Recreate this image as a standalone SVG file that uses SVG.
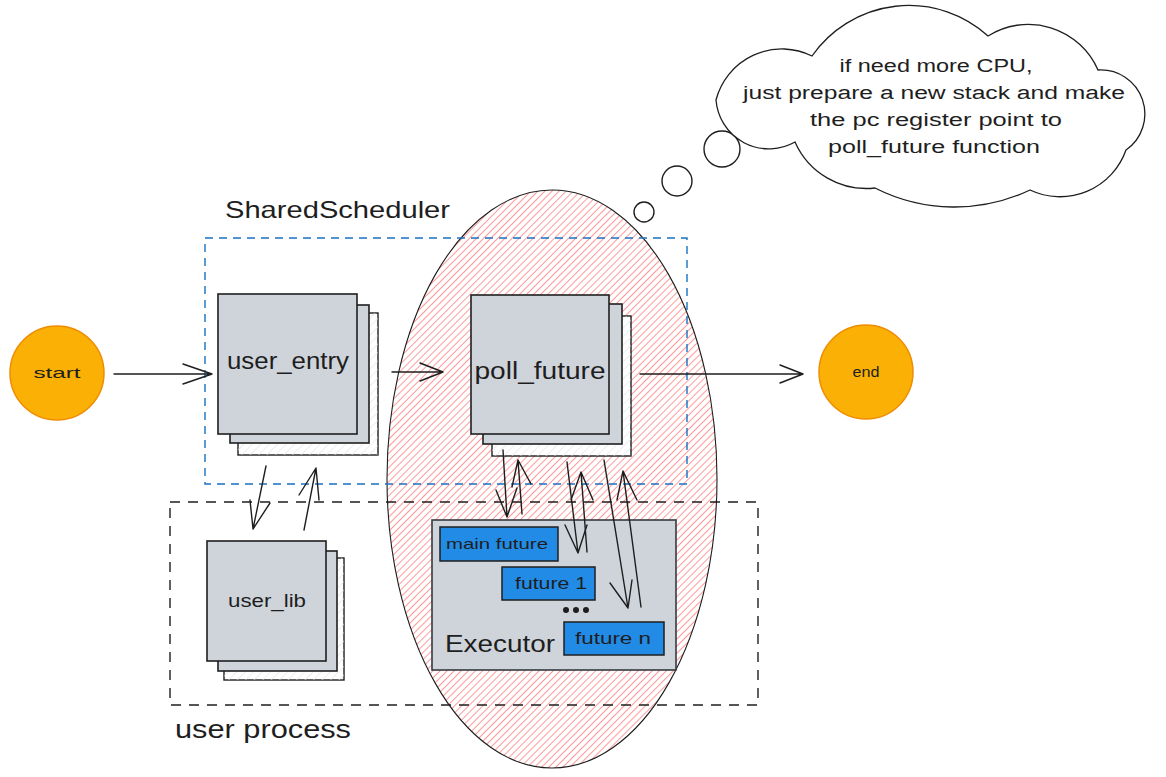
<svg xmlns="http://www.w3.org/2000/svg" width="1166" height="777" viewBox="0 0 1166 777">
  <defs>
    <pattern id="hatchRed" width="5" height="5" patternUnits="userSpaceOnUse" patternTransform="rotate(45)">
      <line x1="0" y1="0" x2="0" y2="5" stroke="#ff8787" stroke-width="1.7"/>
    </pattern>
    <pattern id="hatchGrey" width="6" height="6" patternUnits="userSpaceOnUse" patternTransform="rotate(45)">
      <line x1="0" y1="0" x2="0" y2="6" stroke="#dee2e6" stroke-width="1.2"/>
    </pattern>
    <style>
      .hand { font-family: "Liberation Sans", "DejaVu Sans", sans-serif; fill: #1e1e1e; }
      .ink { fill: none; stroke: #1e1e1e; stroke-width: 1.4; stroke-linecap: round; stroke-linejoin: round; }
      .card { fill: #ced4da; stroke: #1e1e1e; stroke-width: 1.6; }
      .cardBack { fill: #ffffff; stroke: #1e1e1e; stroke-width: 1.4; }
      .cardHatch { fill: url(#hatchGrey); stroke: none; }
      .task { fill: #228be6; stroke: #1e1e1e; stroke-width: 1.5; }
      .term { fill: #fab005; stroke: #f08c00; stroke-width: 1.5; }
    </style>
  </defs>

  <rect width="1166" height="777" fill="#ffffff"/>

  <!-- executor domain: hatched red ellipse -->
  <g id="executor-domain">
    <ellipse cx="552" cy="479" rx="165" ry="289" fill="url(#hatchRed)" stroke="#1e1e1e" stroke-width="1.1"/>
  </g>

  <!-- shared scheduler frame -->
  <g id="shared-scheduler">
    <rect x="205" y="238" width="482" height="246" fill="none" stroke="#1971c2" stroke-width="1.4" stroke-dasharray="8 6"/>
    <text class="hand" x="225" y="218" font-size="24" textLength="225" lengthAdjust="spacingAndGlyphs">SharedScheduler</text>
  </g>

  <!-- user process frame -->
  <g id="user-process">
    <rect x="170" y="502" width="588" height="203" fill="none" stroke="#1e1e1e" stroke-width="1.4" stroke-dasharray="10 8"/>
    <text class="hand" x="175" y="738" font-size="26" textLength="176" lengthAdjust="spacingAndGlyphs">user process</text>
  </g>

  <!-- start -->
  <g id="start">
    <circle class="term" cx="57" cy="373" r="47"/>
    <text class="hand" x="57" y="378" font-size="15" text-anchor="middle" textLength="47" lengthAdjust="spacingAndGlyphs">start</text>
  </g>

  <!-- end -->
  <g id="end">
    <circle class="term" cx="866" cy="372" r="47"/>
    <text class="hand" x="866" y="377" font-size="15" text-anchor="middle" textLength="27" lengthAdjust="spacingAndGlyphs">end</text>
  </g>

  <!-- user_entry stack -->
  <g id="user-entry">
    <rect class="cardBack" x="238" y="313" width="140" height="142"/>
    <rect class="cardHatch" x="238" y="313" width="140" height="142"/>
    <rect class="card" x="230" y="305" width="139" height="138"/>
    <rect class="card" x="218" y="294" width="139" height="140"/>
    <text class="hand" x="288" y="369" font-size="23" text-anchor="middle" textLength="122" lengthAdjust="spacingAndGlyphs">user_entry</text>
  </g>

  <!-- poll_future stack -->
  <g id="poll-future">
    <rect class="cardBack" x="492" y="316" width="139" height="140"/>
    <rect class="cardHatch" x="492" y="316" width="139" height="140"/>
    <rect class="card" x="483" y="304" width="139" height="140"/>
    <rect class="card" x="471" y="295" width="138" height="139"/>
    <text class="hand" x="540" y="379" font-size="23" text-anchor="middle" textLength="131" lengthAdjust="spacingAndGlyphs">poll_future</text>
  </g>

  <!-- user_lib stack -->
  <g id="user-lib">
    <rect class="cardBack" x="224" y="558" width="120" height="122"/>
    <rect class="cardHatch" x="224" y="558" width="120" height="122"/>
    <rect class="card" x="218" y="551" width="119" height="120"/>
    <rect class="card" x="207" y="541" width="119" height="120"/>
    <text class="hand" x="267" y="607" font-size="18" text-anchor="middle" textLength="78" lengthAdjust="spacingAndGlyphs">user_lib</text>
  </g>

  <!-- executor with its futures -->
  <g id="executor">
    <rect x="432" y="520" width="244" height="150" fill="#ced4da" stroke="#343a40" stroke-width="1.6"/>
    <text class="hand" x="445" y="652" font-size="24" textLength="110" lengthAdjust="spacingAndGlyphs">Executor</text>
  </g>
  <g id="main-future">
    <rect class="task" x="440" y="527" width="118" height="34"/>
    <text class="hand" x="497" y="549" font-size="15" text-anchor="middle" textLength="102" lengthAdjust="spacingAndGlyphs">main future</text>
  </g>
  <g id="future-1">
    <rect class="task" x="502" y="567" width="93" height="33"/>
    <text class="hand" x="551" y="589" font-size="17" text-anchor="middle" textLength="72" lengthAdjust="spacingAndGlyphs">future 1</text>
  </g>
  <g id="ellipsis">
    <circle cx="566" cy="610" r="3" fill="#1e1e1e"/>
    <circle cx="576" cy="610" r="3" fill="#1e1e1e"/>
    <circle cx="586" cy="610" r="3" fill="#1e1e1e"/>
  </g>
  <g id="future-n">
    <rect class="task" x="564" y="622" width="100" height="33"/>
    <text class="hand" x="613" y="644" font-size="17" text-anchor="middle" textLength="76" lengthAdjust="spacingAndGlyphs">future n</text>
  </g>

  <!-- thought cloud -->
  <g id="thought">
    <circle cx="644" cy="212" r="10" fill="#ffffff" stroke="#1e1e1e" stroke-width="1.4"/>
    <circle cx="677" cy="181" r="15" fill="#ffffff" stroke="#1e1e1e" stroke-width="1.4"/>
    <circle cx="722" cy="149" r="18" fill="#ffffff" stroke="#1e1e1e" stroke-width="1.4"/>
    <path d="M716,100 A68,68 0 0 1 812,56 A118,118 0 0 1 988,36 A76,76 0 0 1 1098,70 A44,44 0 0 1 1126,150 A70,70 0 0 1 1030,190 A176,176 0 0 1 875,188 A78,78 0 0 1 795,142 A53,53 0 0 1 716,100 Z" fill="#ffffff" stroke="#1e1e1e" stroke-width="1.3"/>
    <text class="hand" x="936" y="72" font-size="18" text-anchor="middle" textLength="193" lengthAdjust="spacingAndGlyphs">if need more CPU,</text>
    <text class="hand" x="934" y="99" font-size="18" text-anchor="middle" textLength="382" lengthAdjust="spacingAndGlyphs">just prepare a new stack and make</text>
    <text class="hand" x="936" y="126" font-size="18" text-anchor="middle" textLength="252" lengthAdjust="spacingAndGlyphs">the pc register point to</text>
    <text class="hand" x="934" y="153" font-size="18" text-anchor="middle" textLength="212" lengthAdjust="spacingAndGlyphs">poll_future function</text>
  </g>

  <!-- connectors -->
  <g id="connectors" class="ink">
    <!-- start to user_entry -->
    <path d="M114,374 L212,374 M183,364 L212,374 L183,384"/>
    <!-- user_entry to poll_future -->
    <path d="M392,372 L443,372 M420,363 L443,372 L420,381"/>
    <!-- poll_future to end -->
    <path d="M640,374 L803,374 M780,365 L803,374 L780,383"/>
    <!-- user_entry down to user_lib -->
    <path d="M266,466 L253,529 M250,500 L253,529 L270,503"/>
    <!-- user_lib up to user_entry -->
    <path d="M304,530 L316,468 M299,495 L316,468 L319,500"/>
    <!-- poll_future to main future and back -->
    <path d="M503,450 L507,517 M496,490 L507,517 L517,488"/>
    <path d="M522,514 L518,460 M512,487 L518,460 L531,484"/>
    <!-- poll_future to future 1 and back -->
    <path d="M567,462 L578,553 M565,525 L578,553 L587,525"/>
    <path d="M587,552 L581,472 M571,500 L581,472 L593,500"/>
    <!-- poll_future to future n and back -->
    <path d="M604,460 L628,608 M610,583 L628,608 L632,580"/>
    <path d="M641,607 L623,471 M617,500 L623,471 L637,500"/>
  </g>
</svg>
